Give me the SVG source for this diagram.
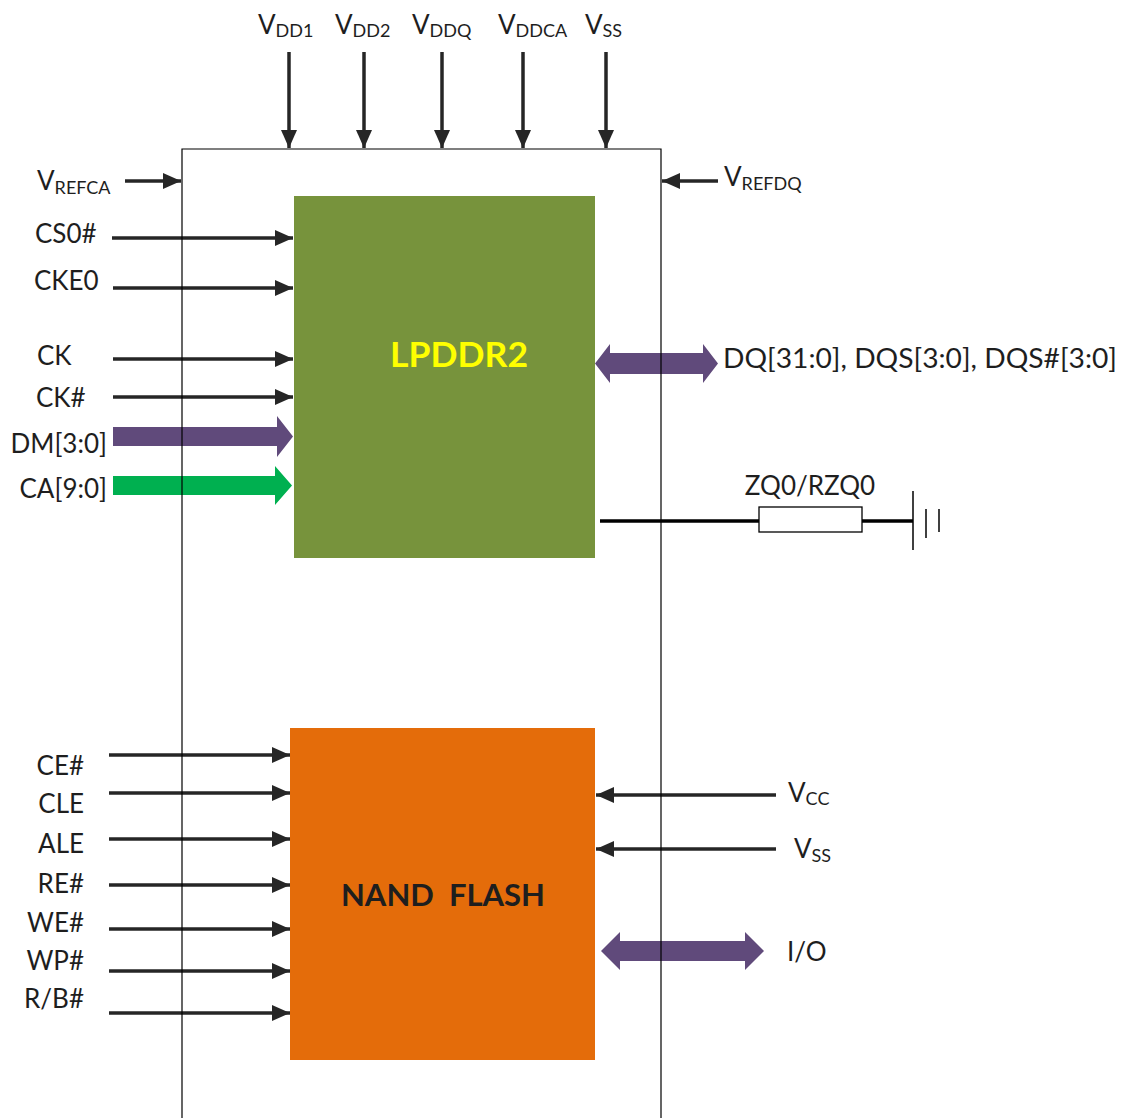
<svg xmlns="http://www.w3.org/2000/svg" width="1128" height="1118" viewBox="0 0 1128 1118">
<defs>
<style>
text{font-family:Lato,"Open Sans","Liberation Sans",sans-serif;fill:#1e1e1e;font-size:26px}
.sub{font-size:18px}
.wire{stroke:#262626;stroke-width:3.5;fill:none}
.wireA{stroke:#262626;stroke-width:3.5;fill:none;marker-end:url(#ah)}
.frame{stroke:#000;stroke-width:1.2;fill:none}
.purple{fill:#604A7B}
.title{font-weight:bold;font-size:32px}
</style>
<marker id="ah" markerUnits="userSpaceOnUse" markerWidth="18" markerHeight="18" viewBox="0 0 18 18" refX="18" refY="9" orient="auto">
<path d="M0,1 L18,9 L0,17 Z" fill="#262626"/>
</marker>
</defs>
<rect width="1128" height="1118" fill="#fff"/>

<g id="lpddr2">
<rect x="294" y="196" width="301" height="362" fill="#77933C"/>
<text x="390" y="367" class="title" style="fill:#FFFF00;font-size:35px" textLength="138" lengthAdjust="spacingAndGlyphs">LPDDR2</text>
</g>
<g id="nand">
<rect x="290" y="728" width="305" height="332" fill="#E46C0A"/>
<text x="443" y="906" class="title" text-anchor="middle" style="font-size:31px;white-space:pre" xml:space="preserve">NAND  FLASH</text>
</g>

<g id="connectors">
<!-- top supplies -->
<line class="wireA" x1="289" y1="52" x2="289" y2="148"/>
<line class="wireA" x1="364" y1="52" x2="364" y2="148"/>
<line class="wireA" x1="442" y1="52" x2="442" y2="148"/>
<line class="wireA" x1="523" y1="52" x2="523" y2="148"/>
<line class="wireA" x1="606" y1="52" x2="606" y2="148"/>
<!-- refs -->
<line class="wireA" x1="125" y1="181" x2="181" y2="181"/>
<line class="wireA" x1="718" y1="181" x2="662" y2="181"/>
<!-- LPDDR2 inputs -->
<line class="wireA" x1="112" y1="238" x2="293" y2="238"/>
<line class="wireA" x1="113" y1="288" x2="293" y2="288"/>
<line class="wireA" x1="113" y1="359" x2="293" y2="359"/>
<line class="wireA" x1="113" y1="397" x2="293" y2="397"/>
<path class="purple" d="M113,427 H277 V416 L293,436.5 L277,457 V446 H113 Z"/>
<path d="M113,476 H275 V466 L292,485.5 L275,505 V495 H113 Z" fill="#00B050"/>
<!-- DQ bidirectional -->
<path class="purple" d="M595,363.5 L610,344 V353 H703 V344 L718,363.5 L703,383 V374 H610 V383 Z"/>
<!-- ZQ -->
<line x1="600" y1="521" x2="759" y2="521" stroke="#000" stroke-width="3.5"/>
<line x1="862" y1="521" x2="913" y2="521" stroke="#000" stroke-width="3.5"/>
<rect x="759" y="507" width="103" height="25" fill="#fff" stroke="#000" stroke-width="1.3"/>
<line x1="913" y1="491" x2="913" y2="550" stroke="#000" stroke-width="1.5"/>
<line x1="926" y1="509" x2="926" y2="538" stroke="#000" stroke-width="1.5"/>
<line x1="939" y1="509" x2="939" y2="532" stroke="#000" stroke-width="1.5"/>
<!-- NAND inputs -->
<line class="wireA" x1="109" y1="755" x2="290" y2="755"/>
<line class="wireA" x1="109" y1="793" x2="290" y2="793"/>
<line class="wireA" x1="109" y1="839" x2="290" y2="839"/>
<line class="wireA" x1="109" y1="885" x2="290" y2="885"/>
<line class="wireA" x1="109" y1="929" x2="290" y2="929"/>
<line class="wireA" x1="109" y1="971" x2="290" y2="971"/>
<line class="wireA" x1="109" y1="1013" x2="290" y2="1013"/>
<!-- NAND right -->
<line class="wireA" x1="776" y1="795" x2="596" y2="795"/>
<line class="wireA" x1="776" y1="849" x2="596" y2="849"/>
<path class="purple" d="M601,951 L620,932 V941 H745 V932 L764,951 L745,970 V961 H620 V970 Z"/>
</g>

<g id="frame">
<path class="frame" d="M182,1120 V149 H661 V1120"/>
</g>

<g id="labels">
<text x="258" y="34">V<tspan class="sub" dy="3">DD1</tspan></text>
<text x="335" y="34">V<tspan class="sub" dy="3">DD2</tspan></text>
<text x="412" y="34">V<tspan class="sub" dy="3">DDQ</tspan></text>
<text x="498" y="34">V<tspan class="sub" dy="3">DDCA</tspan></text>
<text x="585" y="34">V<tspan class="sub" dy="3">SS</tspan></text>
<text x="37" y="190">V<tspan class="sub" dy="4">REFCA</tspan></text>
<text x="724" y="186">V<tspan class="sub" dy="4">REFDQ</tspan></text>
<text x="35" y="243">CS0#</text>
<text x="34" y="290">CKE0</text>
<text x="37" y="365">CK</text>
<text x="36" y="407">CK#</text>
<text x="107" y="453" text-anchor="end">DM[3:0]</text>
<text x="107" y="498" text-anchor="end">CA[9:0]</text>
<text x="723" y="368" style="font-size:27px" textLength="394" lengthAdjust="spacingAndGlyphs">DQ[31:0], DQS[3:0], DQS#[3:0]</text>
<text x="810" y="495" text-anchor="middle">ZQ0/RZQ0</text>
<text x="84" y="775" text-anchor="end">CE#</text>
<text x="84" y="813" text-anchor="end">CLE</text>
<text x="84" y="853" text-anchor="end">ALE</text>
<text x="84" y="893" text-anchor="end">RE#</text>
<text x="84" y="932" text-anchor="end">WE#</text>
<text x="84" y="970" text-anchor="end">WP#</text>
<text x="84" y="1008" text-anchor="end">R/B#</text>
<text x="788" y="802">V<tspan class="sub" dy="3">CC</tspan></text>
<text x="794" y="858">V<tspan class="sub" dy="4">SS</tspan></text>
<text x="787" y="961">I/O</text>
</g>
</svg>
